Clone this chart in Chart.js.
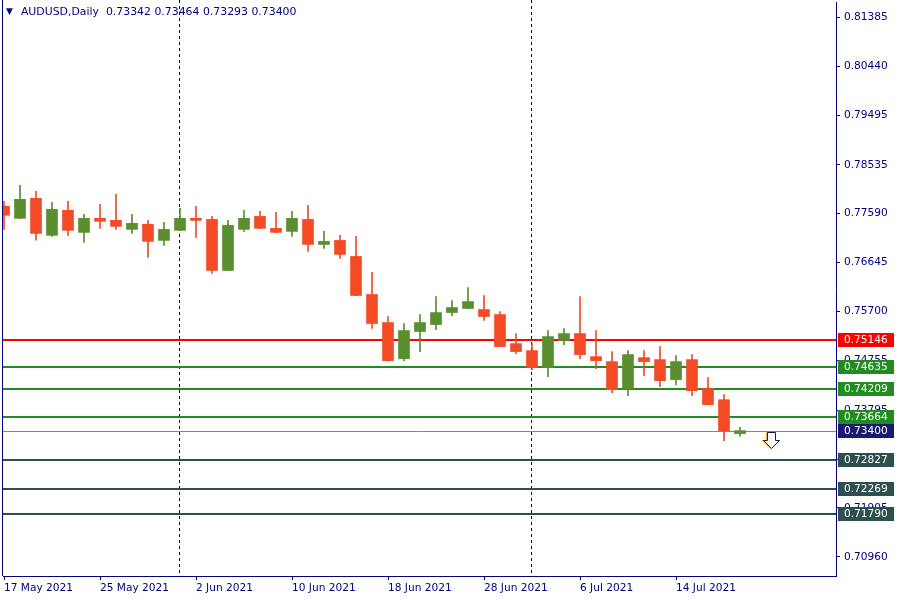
<!DOCTYPE html>
<html>
<head>
<meta charset="utf-8">
<script src="https://cdn.jsdelivr.net/npm/chart.js@4.4.1/dist/chart.umd.min.js"></script>
<style>
  html, body { margin: 0; padding: 0; background: #fff; }
  #wrap { position: relative; width: 900px; height: 600px; }
  #title { position: absolute; left: 6px; top: 5px; font: 10.9px "DejaVu Sans", sans-serif; color: #000080; white-space: pre; }
  #title .tri { font-size: 9px; margin-right: 8px; position: relative; top: -1px; }
</style>
</head>
<body>
<div id="wrap">
  <canvas id="chart" width="900" height="600"></canvas>
  <div id="title"><span class="tri">▼</span>AUDUSD,Daily  0.73342 0.73464 0.73293 0.73400</div>
</div>
<script>
const dates = [
  "17 May 2021", "18 May 2021", "19 May 2021", "20 May 2021", "21 May 2021",
  "24 May 2021", "25 May 2021", "26 May 2021", "27 May 2021", "28 May 2021",
  "31 May 2021", "1 Jun 2021", "2 Jun 2021", "3 Jun 2021", "4 Jun 2021",
  "7 Jun 2021", "8 Jun 2021", "9 Jun 2021", "10 Jun 2021", "11 Jun 2021",
  "14 Jun 2021", "15 Jun 2021", "16 Jun 2021", "17 Jun 2021", "18 Jun 2021",
  "21 Jun 2021", "22 Jun 2021", "23 Jun 2021", "24 Jun 2021", "25 Jun 2021",
  "28 Jun 2021", "29 Jun 2021", "30 Jun 2021", "1 Jul 2021", "2 Jul 2021",
  "5 Jul 2021", "6 Jul 2021", "7 Jul 2021", "8 Jul 2021", "9 Jul 2021",
  "12 Jul 2021", "13 Jul 2021", "14 Jul 2021", "15 Jul 2021", "16 Jul 2021",
  "19 Jul 2021", "20 Jul 2021"
];
const opens = [
  0.77733, 0.77501, 0.77888, 0.77172, 0.77656, 0.77230, 0.77501, 0.77462, 0.77288, 0.77385,
  0.77075, 0.77268, 0.77501, 0.77481, 0.76494, 0.77288, 0.77539, 0.77307, 0.77249, 0.77481,
  0.76997, 0.77075, 0.76765, 0.76030, 0.75488, 0.74791, 0.75314, 0.75449, 0.75681, 0.75759,
  0.75740, 0.75643, 0.75081, 0.74946, 0.74617, 0.75140, 0.75275, 0.74830, 0.74733, 0.74211,
  0.74810, 0.74772, 0.74385, 0.74772, 0.74211, 0.73998, 0.73342
];
const highs = [
  0.77830, 0.78139, 0.78023, 0.77810, 0.77830, 0.77578, 0.77772, 0.77965, 0.77578, 0.77462,
  0.77423, 0.77694, 0.77733, 0.77539, 0.77462, 0.77656, 0.77636, 0.77617, 0.77636, 0.77752,
  0.77249, 0.77172, 0.77152, 0.76456, 0.75604, 0.75469, 0.75643, 0.75991, 0.75914, 0.76165,
  0.76010, 0.75701, 0.75275, 0.75081, 0.75333, 0.75372, 0.75991, 0.75333, 0.74927, 0.74946,
  0.74946, 0.75023, 0.74849, 0.74869, 0.74423, 0.74094, 0.73464
];
const lows = [
  0.77288, 0.77495, 0.77081, 0.77152, 0.77172, 0.77036, 0.77307, 0.77288, 0.77210, 0.76746,
  0.76978, 0.77262, 0.77133, 0.76436, 0.76490, 0.77249, 0.77300, 0.77225, 0.77152, 0.76862,
  0.76920, 0.76727, 0.76005, 0.75372, 0.74748, 0.74752, 0.74927, 0.75352, 0.75623, 0.75755,
  0.75527, 0.75020, 0.74888, 0.74578, 0.74443, 0.75062, 0.74791, 0.74598, 0.74133, 0.74075,
  0.74462, 0.74249, 0.74288, 0.74075, 0.73895, 0.73204, 0.73293
];
const closes = [
  0.77559, 0.77868, 0.77210, 0.77675, 0.77268, 0.77501, 0.77443, 0.77346, 0.77404, 0.77056,
  0.77288, 0.77501, 0.77462, 0.76494, 0.77365, 0.77501, 0.77307, 0.77230, 0.77501, 0.76997,
  0.77056, 0.76804, 0.76010, 0.75469, 0.74752, 0.75333, 0.75488, 0.75681, 0.75778, 0.75894,
  0.75604, 0.75023, 0.74927, 0.74617, 0.75217, 0.75275, 0.74869, 0.74752, 0.74191, 0.74869,
  0.74733, 0.74365, 0.74733, 0.74172, 0.73901, 0.73398, 0.73400
];
const priceTicks = [0.81385, 0.80440, 0.79495, 0.78535, 0.77590, 0.76645, 0.75700, 0.74755, 0.73795, 0.72850, 0.71905, 0.70960];
const dateTickEvery = 6;
const levels = [0.75146, 0.74635, 0.74209, 0.73664, 0.72827, 0.72269, 0.71790];
const levelColors = ["#ff0000", "#228b22", "#228b22", "#228b22", "#2f4f4f", "#2f4f4f", "#2f4f4f"];
const bid = closes[closes.length - 1];
const arrowAt = { x: 47.94, y: 0.73400 };

const UP = "#5a8e2f";
const DOWN = "#f34b25";
const NAVY = "#000080";
const FONT = { family: "DejaVu Sans", size: 10.6 };

const candleColors = opens.map((o, i) => (closes[i] >= o ? UP : DOWN));
const monthStarts = dates
  .map((d, i) => (i > 0 && d.split(" ")[1] !== dates[i - 1].split(" ")[1] ? i : -1))
  .filter((i) => i >= 0);

const overlay = {
  id: "overlay",
  beforeDatasetsDraw(chart) {
    const { ctx, chartArea: a, scales: { x, y } } = chart;
    ctx.save();
    // month separators
    ctx.strokeStyle = "#000040";
    ctx.lineWidth = 1;
    ctx.setLineDash([3, 3]);
    monthStarts.forEach((i) => {
      const px = Math.round(x.getPixelForValue(i)) - 0.5;
      ctx.beginPath();
      ctx.moveTo(px, 0);
      ctx.lineTo(px, a.bottom);
      ctx.stroke();
    });
    ctx.setLineDash([]);
    // horizontal levels
    levels.forEach((v, k) => {
      const py = Math.round(y.getPixelForValue(v));
      ctx.strokeStyle = levelColors[k];
      ctx.lineWidth = 2;
      ctx.beginPath();
      ctx.moveTo(a.left, py);
      ctx.lineTo(a.right, py);
      ctx.stroke();
    });
    // bid line
    const by = Math.round(y.getPixelForValue(bid)) + 0.5;
    ctx.strokeStyle = "#778899";
    ctx.lineWidth = 1;
    ctx.beginPath();
    ctx.moveTo(a.left, by);
    ctx.lineTo(a.right, by);
    ctx.stroke();
    ctx.restore();
  },
  afterDraw(chart) {
    const { ctx, chartArea: a, scales: { x, y } } = chart;
    ctx.save();
    // left border
    ctx.strokeStyle = NAVY;
    ctx.lineWidth = 1;
    ctx.beginPath();
    ctx.moveTo(a.left - 0.5, 0);
    ctx.lineTo(a.left - 0.5, a.bottom);
    ctx.stroke();

    // price boxes on the axis
    ctx.font = FONT.size + "px " + FONT.family;
    ctx.textAlign = "left";
    ctx.textBaseline = "middle";
    const box = (v, bg) => {
      const py = Math.round(y.getPixelForValue(v));
      ctx.fillStyle = bg;
      ctx.fillRect(a.right + 2, py - 7, 56, 14);
      ctx.fillStyle = "#ffffff";
      ctx.fillText(v.toFixed(5), a.right + 8, py + 0.5);
    };
    levels.forEach((v, k) => box(v, levelColors[k]));
    box(bid, "#191970");

    // sell arrow
    const cx = Math.round(x.getPixelForValue(arrowAt.x)) + 0.5;
    const ty = Math.round(y.getPixelForValue(arrowAt.y)) + 1.5;
    const path = (dx) => {
      ctx.beginPath();
      ctx.moveTo(cx - 4 + dx, ty);
      ctx.lineTo(cx + 4 + dx, ty);
      ctx.lineTo(cx + 4 + dx, ty + 8);
      ctx.lineTo(cx + 8 + dx, ty + 8);
      ctx.lineTo(cx + dx, ty + 16);
      ctx.lineTo(cx - 8 + dx, ty + 8);
      ctx.lineTo(cx - 4 + dx, ty + 8);
      ctx.closePath();
    };
    ctx.lineWidth = 1;
    path(-1);
    ctx.strokeStyle = "#f5a623";
    ctx.stroke();
    path(0);
    ctx.fillStyle = "#ffffff";
    ctx.fill();
    ctx.strokeStyle = "#1a1a50";
    ctx.stroke();
    ctx.restore();
  }
};

new Chart(document.getElementById("chart"), {
  type: "bar",
  data: {
    datasets: [
      {
        label: "body",
        data: opens.map((o, i) => ({ x: i, y: [o, closes[i]] })),
        backgroundColor: candleColors,
        barThickness: 11,
        minBarLength: 1,
        grouped: false,
        order: 0
      },
      {
        label: "wick",
        data: highs.map((h, i) => ({ x: i, y: [lows[i], h] })),
        backgroundColor: candleColors,
        barThickness: 1,
        grouped: false,
        order: 1
      }
    ]
  },
  options: {
    responsive: false,
    animation: false,
    devicePixelRatio: 1,
    layout: { padding: { left: 3, top: 2, right: 0, bottom: 0 } },
    plugins: { legend: { display: false }, tooltip: { enabled: false } },
    scales: {
      x: {
        type: "linear",
        offset: false,
        min: -0.0625,
        max: 52,
        afterBuildTicks: (s) => {
          s.ticks = dates.map((d, i) => i).filter((i) => i % dateTickEvery === 0).map((v) => ({ value: v }));
        },
        afterFit: (s) => { s.height = 24; s.paddingLeft = 0; s.paddingRight = 0; },
        ticks: {
          autoSkip: false,
          maxRotation: 0,
          align: "start",
          padding: 2,
          color: NAVY,
          font: FONT,
          callback: (v) => dates[v]
        },
        grid: { offset: false, drawOnChartArea: false, tickLength: 4, color: NAVY },
        border: { color: NAVY }
      },
      y: {
        position: "right",
        min: 0.70591,
        max: 0.81681,
        afterBuildTicks: (s) => { s.ticks = priceTicks.map((v) => ({ value: v })); },
        afterFit: (s) => { s.width = 64; s.paddingTop = 0; s.paddingBottom = 0; },
        ticks: {
          autoSkip: false,
          padding: 4,
          color: NAVY,
          font: FONT,
          callback: (v) => v.toFixed(5)
        },
        grid: { drawOnChartArea: false, tickLength: 4, color: NAVY },
        border: { color: NAVY }
      }
    }
  },
  plugins: [overlay]
});
</script>
</body>
</html>
